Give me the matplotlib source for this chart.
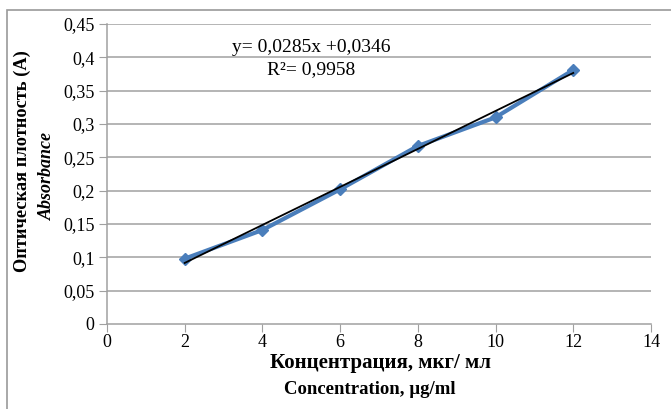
import matplotlib
matplotlib.use('Agg')
import matplotlib.pyplot as plt
import numpy as np
from matplotlib.patches import Rectangle

# calibration data
conc = [2, 4, 6, 8, 10, 12]
absorb = [0.098, 0.141, 0.202, 0.267, 0.310, 0.381]
slope = 0.0285
intercept = 0.0346
eq_text = 'y= 0,0285x +0,0346'
r2_text = 'R\u00b2= 0,9958'
xticks = [0, 2, 4, 6, 8, 10, 12, 14]
yticks = [0, 0.05, 0.1, 0.15, 0.2, 0.25, 0.3, 0.35, 0.4, 0.45]
ytick_labels = ['0', '0,05', '0,1', '0,15', '0,2', '0,25', '0,3', '0,35', '0,4', '0,45']

plt.rcParams['font.family'] = ['Liberation Serif', 'DejaVu Serif']

fig = plt.figure(figsize=(6.71, 4.09), dpi=100)
ax = fig.add_axes([107/671, 1-324/409, 544/671, 300/409])

# outer chart border (only top and left visible)
fig.patches.append(Rectangle((7/671, -0.1), 1.2, 1-10/409+0.1, transform=fig.transFigure,
                             fill=False, edgecolor='#9a9a9a', linewidth=1.2))

grey = '#a0a0a0'
for yv in yticks[1:]:
    ax.axhline(yv, color=grey, linewidth=1.1, zorder=1)

ax.plot(conc, absorb, color='#4a7ebb', linewidth=3, marker='D', markersize=6.5,
        markerfacecolor='#4a7ebb', markeredgecolor='#4a7ebb', zorder=3)

xfit = np.array([conc[0], conc[-1]])
ax.plot(xfit, slope * xfit + intercept, color='black', linewidth=1.3, zorder=4)

ax.set_xlim(0, 14)
ax.set_ylim(0, 0.45)
ax.set_xticks(xticks)
ax.set_xticklabels([str(v) for v in xticks], fontsize=13)
ax.set_yticks(yticks)
ax.set_yticklabels(ytick_labels, fontsize=13)
ax.tick_params(axis='both', direction='out', length=6, color=grey, pad=3)
ax.tick_params(axis='x', pad=1.5)

for s in ['top', 'right']:
    ax.spines[s].set_visible(False)
for s in ['left', 'bottom']:
    ax.spines[s].set_color(grey)
    ax.spines[s].set_linewidth(1.1)

fig.text(311/671, 1-47/409, eq_text, ha='center', va='center', fontsize=14)
fig.text(311/671, 1-70/409, r2_text, ha='center', va='center', fontsize=14)

fig.text(22/671, 1-161/409, 'Оптическая плотность (A)', rotation=90, ha='center', va='center',
         fontsize=13.2, fontweight='bold')
fig.text(47/671, 1-176/409, 'Absorbance', rotation=90, ha='center', va='center',
         fontsize=13, fontweight='bold', style='italic')
fig.text(380/671, 1-363/409, 'Концентрация, мкг/ мл', ha='center', va='center',
         fontsize=15, fontweight='bold')
fig.text(370/671, 1-389/409, 'Concentration, \u00b5g/ml', ha='center', va='center',
         fontsize=13.5, fontweight='bold')

plt.savefig('out.png', dpi=100)
plt.close(fig)
